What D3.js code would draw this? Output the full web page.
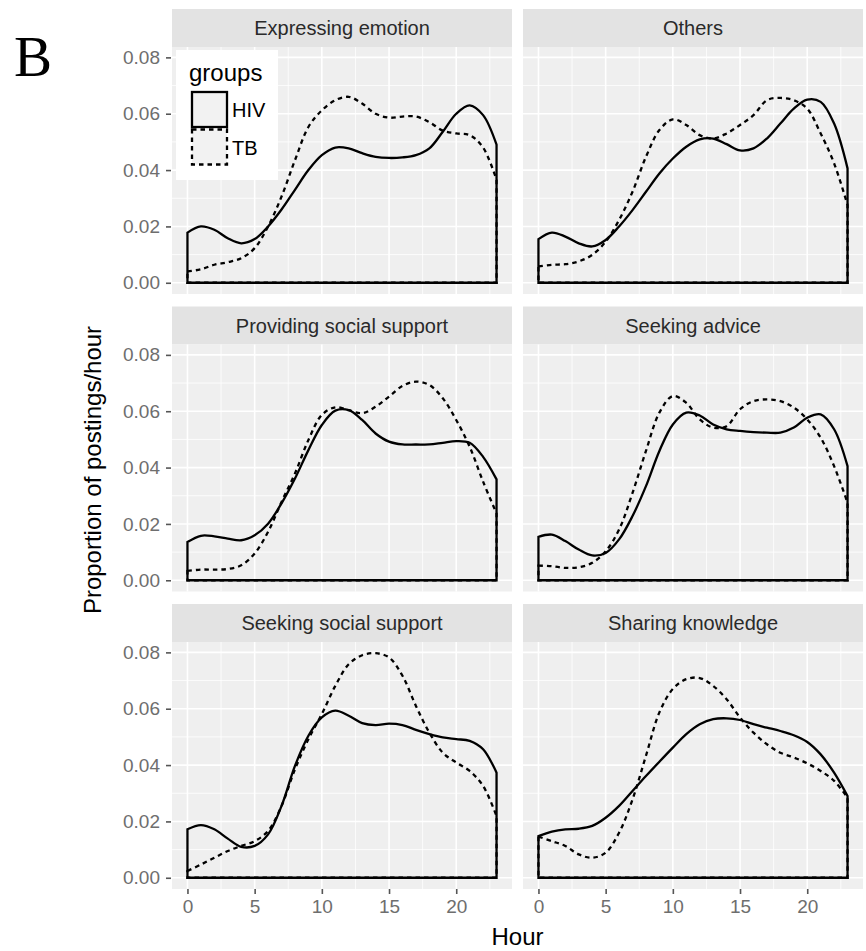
<!DOCTYPE html>
<html lang="en">
  <head>
    <meta charset="UTF-8" />
    <script src="https://d3js.org/d3.v7.min.js"></script>
    <title>Postings per hour</title>
    <style>
      body { margin: 0; background: #fff; }
      text { font-family: "Liberation Sans", Arial, sans-serif; }
    </style>
  </head>
  <body>
  </body>
</html>
<script>
const width = 866;
const height = 951;

// facet names, row by row
const panels = ["Expressing emotion", "Others", "Providing social support",
                "Seeking advice", "Seeking social support", "Sharing knowledge"];
const groups = ["HIV", "TB"];
const hours = [0,1,2,3,4,5,6,7,8,9,10,11,12,13,14,15,16,17,18,19,20,21,22,23];

// proportion of postings per hour
const expressingHIV = [0.0178,0.0200,0.0188,0.0158,0.0140,0.0155,0.0200,0.0260,0.0330,0.0400,0.0453,0.0480,0.0477,0.0460,0.0447,0.0443,0.0445,0.0453,0.0477,0.0536,0.0600,0.0630,0.0595,0.0490];
const expressingTB  = [0.0040,0.0048,0.0064,0.0073,0.0087,0.0123,0.0200,0.0306,0.0435,0.0553,0.0612,0.0648,0.0660,0.0636,0.0600,0.0586,0.0590,0.0590,0.0570,0.0540,0.0530,0.0524,0.0480,0.0365];
const othersHIV     = [0.0155,0.0178,0.0164,0.0140,0.0129,0.0152,0.0200,0.0258,0.0323,0.0388,0.0441,0.0483,0.0509,0.0512,0.0492,0.0470,0.0477,0.0512,0.0565,0.0618,0.0650,0.0642,0.0565,0.0406];
const othersTB      = [0.0058,0.0064,0.0066,0.0076,0.0099,0.0146,0.0223,0.0323,0.0447,0.0542,0.0580,0.0560,0.0524,0.0512,0.0530,0.0560,0.0595,0.0648,0.0656,0.0648,0.0618,0.0530,0.0424,0.0276];
const providingHIV  = [0.0136,0.0158,0.0156,0.0148,0.0142,0.0160,0.0201,0.0273,0.0361,0.0462,0.0551,0.0602,0.0604,0.0569,0.0521,0.0492,0.0482,0.0482,0.0482,0.0488,0.0494,0.0488,0.0438,0.0358];
const providingTB   = [0.0033,0.0038,0.0038,0.0040,0.0053,0.0095,0.0172,0.0278,0.0379,0.0498,0.0587,0.0614,0.0604,0.0593,0.0616,0.0652,0.0690,0.0705,0.0693,0.0646,0.0569,0.0474,0.0350,0.0237];
const adviceHIV     = [0.0154,0.0162,0.0139,0.0109,0.0088,0.0097,0.0145,0.0228,0.0334,0.0459,0.0553,0.0595,0.0585,0.0553,0.0536,0.0530,0.0526,0.0524,0.0524,0.0542,0.0577,0.0589,0.0536,0.0405];
const adviceTB      = [0.0052,0.0050,0.0044,0.0046,0.0062,0.0103,0.0180,0.0310,0.0459,0.0595,0.0654,0.0630,0.0571,0.0542,0.0547,0.0607,0.0636,0.0642,0.0636,0.0613,0.0571,0.0506,0.0405,0.0275];
const seekingHIV    = [0.0172,0.0187,0.0172,0.0139,0.0110,0.0113,0.0154,0.0255,0.0397,0.0504,0.0569,0.0593,0.0575,0.0549,0.0542,0.0547,0.0542,0.0525,0.0510,0.0498,0.0492,0.0486,0.0456,0.0373];
const seekingTB     = [0.0024,0.0047,0.0071,0.0095,0.0113,0.0130,0.0166,0.0255,0.0385,0.0492,0.0581,0.0681,0.0758,0.0790,0.0797,0.0782,0.0717,0.0610,0.0515,0.0444,0.0409,0.0379,0.0326,0.0219];
const sharingHIV    = [0.0148,0.0164,0.0172,0.0174,0.0184,0.0213,0.0255,0.0308,0.0361,0.0412,0.0462,0.0510,0.0545,0.0563,0.0566,0.0560,0.0545,0.0533,0.0521,0.0506,0.0482,0.0438,0.0373,0.0290];
const sharingTB     = [0.0146,0.0130,0.0113,0.0083,0.0071,0.0089,0.0160,0.0278,0.0433,0.0587,0.0670,0.0705,0.0709,0.0681,0.0634,0.0569,0.0515,0.0474,0.0444,0.0427,0.0406,0.0379,0.0344,0.0284];

const seriesHIV = [expressingHIV, othersHIV, providingHIV, adviceHIV, seekingHIV, sharingHIV];
const seriesTB  = [expressingTB, othersTB, providingTB, adviceTB, seekingTB, sharingTB];

const xTicks = [0, 5, 10, 15, 20];
const yTicks = [0, 0.02, 0.04, 0.06, 0.08];

// layout
const colX = [172, 523];
const panelW = 340;
const stripH = 38;
const panelH = 247;
const rowPitch = 297.5;
const firstRow = 9;

let svg = d3.select("body")
  .append("svg")
  .attr("width", width)
  .attr("height", height);

// shared scales (ggplot style 5% expansion)
let xSpan = [0, 23];
let xPad = (xSpan[1] - xSpan[0]) * 0.05;
let yMax = d3.max(seriesHIV.concat(seriesTB).flat());
let yPad = yMax * 0.05;

panels.forEach((name, i) => {
  let col = i % 2;
  let row = Math.floor(i / 2);
  let x0 = colX[col];
  let top = firstRow + row * rowPitch;
  let pTop = top + stripH;

  let xScale = d3.scaleLinear().domain([xSpan[0] - xPad, xSpan[1] + xPad]).range([x0, x0 + panelW]);
  let yScale = d3.scaleLinear().domain([-yPad, yMax + yPad]).range([pTop + panelH, pTop]);

  let g = svg.append("g");

  // strip
  g.append("rect")
    .attr("x", x0).attr("y", top)
    .attr("width", panelW).attr("height", stripH)
    .attr("fill", "#e3e3e3");
  g.append("text")
    .attr("x", x0 + panelW / 2).attr("y", top + stripH / 2)
    .attr("dy", "0.35em")
    .attr("text-anchor", "middle")
    .style("font-size", "20px")
    .attr("fill", "#2a2a2a")
    .text(name);

  // panel background
  g.append("rect")
    .attr("x", x0).attr("y", pTop)
    .attr("width", panelW).attr("height", panelH)
    .attr("fill", "#efefef");

  // minor grid
  let xMinor = [2.5, 7.5, 12.5, 17.5, 22.5];
  let yMinor = [0.01, 0.03, 0.05, 0.07];
  g.selectAll(".xminor").data(xMinor).enter().append("line")
    .attr("x1", d => xScale(d)).attr("x2", d => xScale(d))
    .attr("y1", pTop).attr("y2", pTop + panelH)
    .attr("stroke", "#fff").attr("stroke-width", 0.8);
  g.selectAll(".yminor").data(yMinor).enter().append("line")
    .attr("y1", d => yScale(d)).attr("y2", d => yScale(d))
    .attr("x1", x0).attr("x2", x0 + panelW)
    .attr("stroke", "#fff").attr("stroke-width", 0.8);
  // major grid
  g.selectAll(".xmajor").data(xTicks).enter().append("line")
    .attr("x1", d => xScale(d)).attr("x2", d => xScale(d))
    .attr("y1", pTop).attr("y2", pTop + panelH)
    .attr("stroke", "#fff").attr("stroke-width", 1.6);
  g.selectAll(".ymajor").data(yTicks).enter().append("line")
    .attr("y1", d => yScale(d)).attr("y2", d => yScale(d))
    .attr("x1", x0).attr("x2", x0 + panelW)
    .attr("stroke", "#fff").attr("stroke-width", 1.6);

  // density outlines
  let area = d3.area()
    .x((d, k) => xScale(hours[k]))
    .y0(yScale(0))
    .y1(d => yScale(d))
    .curve(d3.curveCatmullRom.alpha(0.5));

  g.append("path")
    .attr("d", area(seriesTB[i]))
    .attr("fill", "none")
    .attr("stroke", "#000")
    .attr("stroke-width", 2.3)
    .attr("stroke-dasharray", "4.5,4");
  g.append("path")
    .attr("d", area(seriesHIV[i]))
    .attr("fill", "none")
    .attr("stroke", "#000")
    .attr("stroke-width", 2.3);

  // y axis on left column
  if (col === 0) {
    let yAxis = d3.axisLeft(yScale)
      .tickValues(yTicks)
      .tickFormat(d3.format(".2f"))
      .tickSize(5)
      .tickPadding(6);
    let ag = svg.append("g")
      .attr("transform", "translate(" + (x0 - 1) + ",0)")
      .call(yAxis);
    ag.select(".domain").remove();
    ag.selectAll("line").attr("stroke", "#555").attr("stroke-width", 1.6);
    ag.selectAll("text")
      .style("font-size", "19px")
      .style("font-family", "Liberation Sans, Arial, sans-serif")
      .attr("fill", "#6e6e6e");
  }

  // x axis on bottom row
  if (row === 2) {
    let xAxis = d3.axisBottom(xScale)
      .tickValues(xTicks)
      .tickFormat(d3.format("d"))
      .tickSize(5)
      .tickPadding(6);
    let ag = svg.append("g")
      .attr("transform", "translate(0," + (pTop + panelH) + ")")
      .call(xAxis);
    ag.select(".domain").remove();
    ag.selectAll("line").attr("stroke", "#555").attr("stroke-width", 1.6);
    ag.selectAll("text")
      .style("font-size", "19px")
      .style("font-family", "Liberation Sans, Arial, sans-serif")
      .attr("fill", "#6e6e6e");
  }
});

// axis titles
svg.append("text")
  .attr("x", (colX[0] + colX[1] + panelW) / 2)
  .attr("y", 945)
  .attr("text-anchor", "middle")
  .style("font-size", "24px")
  .attr("fill", "#000")
  .text("Hour");

svg.append("text")
  .attr("transform", "translate(101,470) rotate(-90)")
  .attr("text-anchor", "middle")
  .style("font-size", "24px")
  .attr("fill", "#000")
  .text("Proportion of postings/hour");

// panel letter
svg.append("text")
  .attr("x", 14).attr("y", 76)
  .style("font-family", "Liberation Serif, Times New Roman, serif")
  .style("font-size", "57px")
  .attr("fill", "#000")
  .text("B");

// legend
let legend = svg.append("g");
legend.append("rect")
  .attr("x", 176).attr("y", 50)
  .attr("width", 102).attr("height", 130)
  .attr("fill", "#fff");
legend.append("text")
  .attr("x", 189).attr("y", 81)
  .style("font-size", "24px")
  .attr("fill", "#000")
  .text("groups");
groups.forEach((gname, k) => {
  legend.append("rect")
    .attr("x", 192).attr("y", 92 + k * 37.5)
    .attr("width", 35).attr("height", 35)
    .attr("fill", "#f2f2f2")
    .attr("stroke", "#000")
    .attr("stroke-width", 2.3)
    .attr("stroke-dasharray", k === 1 ? "4.5,4" : null);
  legend.append("text")
    .attr("x", 232).attr("y", 110 + k * 37.5)
    .attr("dy", "0.35em")
    .style("font-size", "20px")
    .attr("fill", "#000")
    .text(gname);
});
</script>
